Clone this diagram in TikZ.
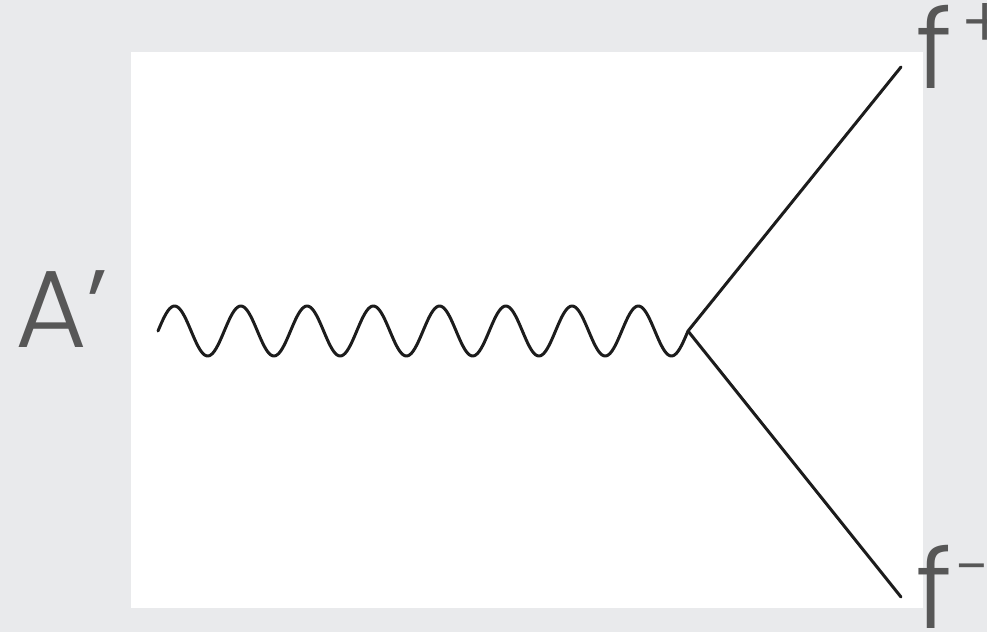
\documentclass[tikz,border=0pt]{standalone}
\usepackage{fontspec}
\setmainfont{Poppins}[UprightFont=* Light]
\usetikzlibrary{positioning}
\definecolor{Slide}{HTML}{E9EAEC}
\definecolor{Ink}{HTML}{1C1C1C}
\definecolor{Label}{HTML}{575757}
\newcommand{\sups}[4]{\kern#1{\fontsize{#2}{#2}\selectfont\raisebox{#3}{#4}}}

\begin{document}
\begin{tikzpicture}[x=1pt,y=-1pt,
    line/.style={Ink,line width=3pt,line cap=round,line join=round},
    lbl/.style={Label,inner sep=0pt,anchor=base west,font=\fontsize{110pt}{110pt}\selectfont}
  ]
  \fill[Slide] (0,0) rectangle (987,632);
  \useasboundingbox (0,0) rectangle (987,632);
  \fill[white] (131,52) rectangle (923,608);
  % vertex and legs
  \coordinate (in) at (158,331);
  \coordinate (vtx) at (688,331);
  \coordinate (up) at (901,67);
  \coordinate (dn) at (901,597);
  \draw[line,shift={(in)}] plot[domain=0:530,samples=321,smooth] (\x,{-25*sin(\x*5.43396)});
  \draw[line] (up) -- (vtx) -- (dn);
  % labels
  \node[lbl] (aprime) at (15,347) {A’};
  \node[lbl] (fplus) at (916,88) {f\sups{10pt}{72pt}{40pt}{+}};
  \node[lbl] (fminus) at (916,628) {f\sups{6pt}{64pt}{39pt}{-}};
\end{tikzpicture}
\end{document}
